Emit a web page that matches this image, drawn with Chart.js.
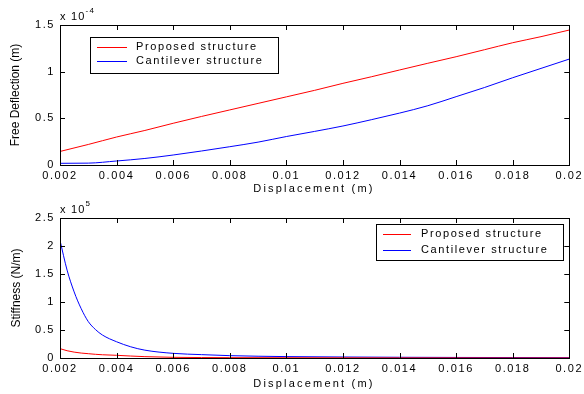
<!DOCTYPE html>
<html><head><meta charset="utf-8">
<script src="https://cdn.jsdelivr.net/npm/chart.js@4/dist/chart.umd.min.js"></script>
<style>
html,body{margin:0;padding:0;background:#fff;}
.w{position:absolute;left:0;width:584px;height:197px;}
</style></head><body>
<div class="w" style="top:0"><canvas id="c1"></canvas></div>
<div class="w" style="top:197px"><canvas id="c2"></canvas></div>
<script>
const xTicks = [0.002,0.004,0.006,0.008,0.01,0.012,0.014,0.016,0.018,0.02];
const defl_x = [0.002,0.003,0.004,0.005,0.006,0.007,0.008,0.009,0.010,0.011,0.012,0.013,0.014,0.015,0.016,0.017,0.018,0.019,0.020];
const defl_proposed = [0.145,0.22,0.30,0.37,0.447,0.52,0.59,0.66,0.73,0.80,0.875,0.945,1.018,1.09,1.16,1.235,1.31,1.375,1.446];
const defl_cantilever = [0.018,0.02,0.043,0.07,0.107,0.15,0.196,0.245,0.305,0.36,0.418,0.485,0.556,0.635,0.732,0.83,0.935,1.035,1.135];
const defl_yTicks = [0,0.5,1,1.5];
const stiff_x = [0.002,0.00225,0.0025,0.00275,0.003,0.00325,0.0035,0.004,0.0045,0.005,0.006,0.007,0.008,0.01,0.012,0.014,0.016,0.018,0.02];
const stiff_proposed = [0.167,0.13,0.105,0.088,0.077,0.066,0.058,0.048,0.035,0.024,0.012,0.008,0.006,0.004,0.003,0.002,0.002,0.001,0.001];
const stiff_cantilever = [2.10,1.57,1.18,0.88,0.65,0.51,0.41,0.29,0.20,0.14,0.083,0.06,0.042,0.025,0.018,0.013,0.01,0.008,0.006];
const stiff_yTicks = [0,0.5,1,1.5,2,2.5];
const seriesNames = ['Proposed structure','Cantilever structure'];
const xTitle = 'Displacement (m)';
const colors = ['#ff0000','#0000ff'];

const FONT = 'Liberation Sans, Arial, sans-serif';
const fmt = v => Number(v.toFixed(4)).toString();

function pts(xs, ys){ return xs.map((x,i)=>({x:x,y:ys[i]})); }

const framePlugin = {
  id:'frame',
  beforeDraw(chart){ chart.ctx.letterSpacing = '1.6px'; },
  afterDraw(chart, args, opts){
    const ctx = chart.ctx, a = chart.chartArea, xs = chart.scales.x, ys = chart.scales.y;
    ctx.save();
    ctx.strokeStyle = '#000'; ctx.lineWidth = 1;
    ctx.strokeRect(Math.round(a.left)+0.5, Math.round(a.top)+0.5, Math.round(a.right-a.left), Math.round(a.bottom-a.top));
    ctx.beginPath();
    xTicks.forEach(v=>{ const px=Math.round(xs.getPixelForValue(v))+0.5;
      ctx.moveTo(px,a.bottom); ctx.lineTo(px,a.bottom-5);
      ctx.moveTo(px,a.top); ctx.lineTo(px,a.top+5);});
    opts.yTicks.forEach(v=>{ const py=Math.round(ys.getPixelForValue(v))+0.5;
      ctx.moveTo(a.left,py); ctx.lineTo(a.left+5,py);
      ctx.moveTo(a.right,py); ctx.lineTo(a.right-5,py);});
    ctx.stroke();
    // y title
    ctx.save();
    ctx.letterSpacing='0px';
    ctx.fillStyle='#000'; ctx.font='12px '+FONT; ctx.textAlign='center'; ctx.textBaseline='middle';
    ctx.translate(opts.ytx, (a.top+a.bottom)/2);
    ctx.rotate(-Math.PI/2);
    ctx.fillText(opts.ylabel, 0, 0);
    ctx.restore();
    // x title
    ctx.save();
    ctx.letterSpacing='2.2px';
    ctx.fillStyle='#000'; ctx.font='11px '+FONT; ctx.textAlign='left'; ctx.textBaseline='middle';
    const tw = ctx.measureText(xTitle).width;
    ctx.fillText(xTitle, 314 - tw/2, a.bottom + opts.xto);
    ctx.restore();
    // exponent label
    ctx.letterSpacing='1.2px';
    ctx.fillStyle='#000'; ctx.textBaseline='alphabetic'; ctx.textAlign='left';
    ctx.font = '11px '+FONT;
    ctx.fillText('x 10', a.left, a.top-5);
    const w = ctx.measureText('x 10').width;
    ctx.font = '8px '+FONT;
    ctx.fillText(opts.exp, a.left+w, a.top-12);
    // legend
    const L = opts.legend;
    ctx.fillStyle='#fff';
    ctx.fillRect(L.x, L.y, L.w, L.h);
    ctx.strokeStyle='#000';
    ctx.strokeRect(L.x+0.5, L.y+0.5, L.w, L.h);
    ctx.font = '11px '+FONT; ctx.textBaseline='middle';
    ctx.letterSpacing='1.6px';
    chart.data.datasets.forEach((d,i)=>{
      const yy = Math.round(L.y + L.r0 + i*L.dy);
      ctx.strokeStyle=colors[i]; ctx.lineWidth=1; ctx.beginPath();
      ctx.moveTo(L.x+L.l0, yy+0.5); ctx.lineTo(L.x+L.l1, yy+0.5); ctx.stroke();
      ctx.fillStyle='#000';
      ctx.fillText(d.label, L.x+L.t0, yy);
    });
    ctx.restore();
  }
};

function makeChart(id, xs, a, b, yTicks, ymax, ylabel, exp, legend, top, xh, ytx, xto){
  return new Chart(document.getElementById(id), {
    type:'line',
    data:{datasets:[
      {label:seriesNames[0], data:pts(xs,a), borderColor:colors[0], borderWidth:1, pointRadius:0, cubicInterpolationMode:'monotone'},
      {label:seriesNames[1], data:pts(xs,b), borderColor:colors[1], borderWidth:1, pointRadius:0, cubicInterpolationMode:'monotone'}
    ]},
    options:{
      responsive:true, maintainAspectRatio:false, animation:false,
      layout:{padding:{top:top, right:14, left:0, bottom:0}},
      plugins:{legend:{display:false}, tooltip:{enabled:false},
        frame:{yTicks:yTicks, exp:exp, legend:legend, ylabel:ylabel, ytx:ytx, xto:xto}},
      scales:{
        x:{type:'linear', min:0.002, max:0.02,
          afterBuildTicks:s=>{s.ticks = xTicks.map(v=>({value:v}));},
          afterFit:s=>{s.height = xh;},
          grid:{display:false, drawTicks:false}, border:{display:false},
          ticks:{color:'#000', font:{family:FONT,size:11}, padding:4, maxRotation:0, autoSkip:false, callback:v=>fmt(v)},
          title:{display:false}},
        y:{type:'linear', min:0, max:ymax,
          afterBuildTicks:s=>{s.ticks = yTicks.map(v=>({value:v}));},
          afterFit:s=>{s.width = 60;},
          grid:{display:false, drawTicks:false}, border:{display:false},
          ticks:{color:'#000', font:{family:FONT,size:11}, padding:5, callback:v=>fmt(v)},
          title:{display:false}}
      }
    },
    plugins:[framePlugin]
  });
}

makeChart('c1', defl_x, defl_proposed, defl_cantilever, defl_yTicks, 1.5, 'Free Deflection (m)', '-4',
  {x:90,y:37,w:188,h:36,l0:7,l1:37,t0:46,r0:10,dy:14}, 25, 32, 16, 24);
makeChart('c2', stiff_x, stiff_proposed, stiff_cantilever, stiff_yTicks, 2.5, 'Stiffness (N/m)', '5',
  {x:376,y:27,w:187,h:36,l0:7,l1:35,t0:45,r0:10,dy:16}, 21, 36, 17, 26);
</script>
</body></html>
